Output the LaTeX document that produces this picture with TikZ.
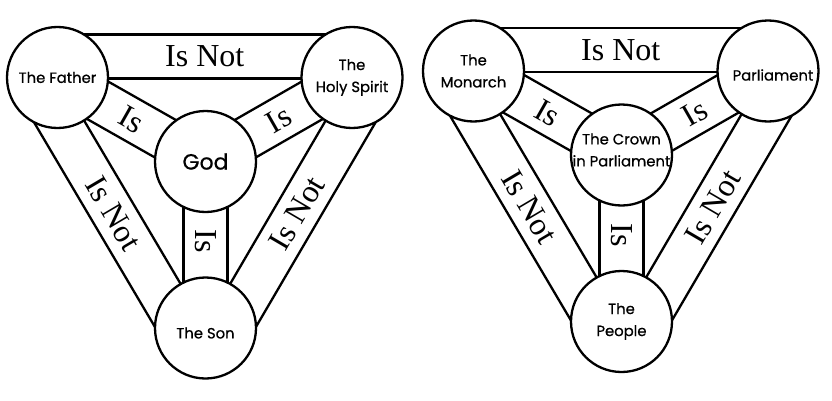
\documentclass[tikz,border=0pt]{standalone}
\usepackage{fontspec}
\setmainfont{Liberation Serif}
\newfontfamily\lblfont[FakeBold=0.7]{Poppins}
\usetikzlibrary{calc,backgrounds}
\begin{document}
\begin{tikzpicture}[x=1pt,y=1pt,
  circ/.style={circle,draw,line width=2.3pt,fill=white,minimum size=101pt,inner sep=0pt},
  lbl/.style={font=\lblfont\fontsize{14.8}{22}\selectfont,align=center,inner sep=0pt},
  godlbl/.style={font=\lblfont\fontsize{22}{24}\selectfont,inner sep=0pt},
  bandline/.style={line width=2.3pt},
  rel/.style={font=\fontsize{32}{32}\selectfont,inner sep=0pt},
]
\useasboundingbox (0,0) rectangle (832,400);
% ---------- left shield ----------
\node[circ,label={[lbl]center:The Father}] (fa) at (57.5,322.5) {};
\node[circ,label={[lbl]center:The\\Holy Spirit}] (hs) at (352,322.5) {};
\node[circ,label={[godlbl]center:God}] (god) at (205.5,238.5) {};
\node[circ,label={[lbl,yshift=-5pt]center:The Son}] (son) at (205.5,72) {};
\begin{scope}[on background layer]
  \draw[bandline] ($(fa)!43pt!90:(hs)$) -- ($(hs)!43pt!-90:(fa)$);
  \draw[bandline] ($(fa)!1pt!-90:(hs)$) -- ($(hs)!1pt!90:(fa)$);
  \draw[bandline] ($(hs)!43pt!90:(son)$) -- ($(son)!43pt!-90:(hs)$);
  \draw[bandline] ($(hs)!1pt!-90:(son)$) -- ($(son)!1pt!90:(hs)$);
  \draw[bandline] ($(son)!43pt!90:(fa)$) -- ($(fa)!43pt!-90:(son)$);
  \draw[bandline] ($(son)!1pt!-90:(fa)$) -- ($(fa)!1pt!90:(son)$);
  \draw[bandline] ($(fa)!21.5pt!90:(god)$) -- ($(god)!21.5pt!-90:(fa)$);
  \draw[bandline] ($(fa)!21.5pt!-90:(god)$) -- ($(god)!21.5pt!90:(fa)$);
  \draw[bandline] ($(hs)!21.5pt!90:(god)$) -- ($(god)!21.5pt!-90:(hs)$);
  \draw[bandline] ($(hs)!21.5pt!-90:(god)$) -- ($(god)!21.5pt!90:(hs)$);
  \draw[bandline] ($(god)!22pt!90:(son)$) -- ($(son)!22pt!-90:(god)$);
  \draw[bandline] ($(god)!22pt!-90:(son)$) -- ($(son)!22pt!90:(god)$);
\end{scope}
\path ($(fa)!21pt!90:(hs)$) -- ($(hs)!21pt!-90:(fa)$) node[midway,sloped,rel] {Is Not};
\path ($(hs)!21pt!90:(son)$) -- ($(son)!21pt!-90:(hs)$) node[midway,sloped,rel] {Is Not};
\path ($(fa)!21pt!-90:(son)$) -- ($(son)!21pt!90:(fa)$) node[midway,sloped,rel] {Is Not};
\path (fa) -- (god) node[midway,sloped,rel] {Is};
\path (hs) -- (god) node[midway,sloped,rel] {Is};
\node[rel,rotate=-90] (isl) at ($(god)!0.48!(son)$) {Is};
% ---------- right shield ----------
\node[circ,label={[lbl]center:The\\Monarch}] (mo) at (473.5,329) {};
\node[circ,label={[lbl,xshift=5pt,yshift=-4pt]center:Parliament}] (pa) at (768,329) {};
\node[circ,label={[lbl,yshift=5pt]center:The Crown\\in Parliament}] (cr) at (621.5,245) {};
\node[circ,label={[lbl]center:The\\People}] (pe) at (621.5,78.5) {};
\begin{scope}[on background layer]
  \draw[bandline] ($(mo)!43pt!90:(pa)$) -- ($(pa)!43pt!-90:(mo)$);
  \draw[bandline] ($(mo)!1pt!-90:(pa)$) -- ($(pa)!1pt!90:(mo)$);
  \draw[bandline] ($(pa)!43pt!90:(pe)$) -- ($(pe)!43pt!-90:(pa)$);
  \draw[bandline] ($(pa)!1pt!-90:(pe)$) -- ($(pe)!1pt!90:(pa)$);
  \draw[bandline] ($(pe)!43pt!90:(mo)$) -- ($(mo)!43pt!-90:(pe)$);
  \draw[bandline] ($(pe)!1pt!-90:(mo)$) -- ($(mo)!1pt!90:(pe)$);
  \draw[bandline] ($(mo)!21.5pt!90:(cr)$) -- ($(cr)!21.5pt!-90:(mo)$);
  \draw[bandline] ($(mo)!21.5pt!-90:(cr)$) -- ($(cr)!21.5pt!90:(mo)$);
  \draw[bandline] ($(pa)!21.5pt!90:(cr)$) -- ($(cr)!21.5pt!-90:(pa)$);
  \draw[bandline] ($(pa)!21.5pt!-90:(cr)$) -- ($(cr)!21.5pt!90:(pa)$);
  \draw[bandline] ($(cr)!22pt!90:(pe)$) -- ($(pe)!22pt!-90:(cr)$);
  \draw[bandline] ($(cr)!22pt!-90:(pe)$) -- ($(pe)!22pt!90:(cr)$);
\end{scope}
\path ($(mo)!21pt!90:(pa)$) -- ($(pa)!21pt!-90:(mo)$) node[midway,sloped,rel] {Is Not};
\path ($(pa)!21pt!90:(pe)$) -- ($(pe)!21pt!-90:(pa)$) node[midway,sloped,rel] {Is Not};
\path ($(mo)!21pt!-90:(pe)$) -- ($(pe)!21pt!90:(mo)$) node[midway,sloped,rel] {Is Not};
\path (mo) -- (cr) node[midway,sloped,rel] {Is};
\path (pa) -- (cr) node[midway,sloped,rel] {Is};
\node[rel,rotate=-90] (isr) at ($(cr)!0.48!(pe)$) {Is};
\end{tikzpicture}
\end{document}
